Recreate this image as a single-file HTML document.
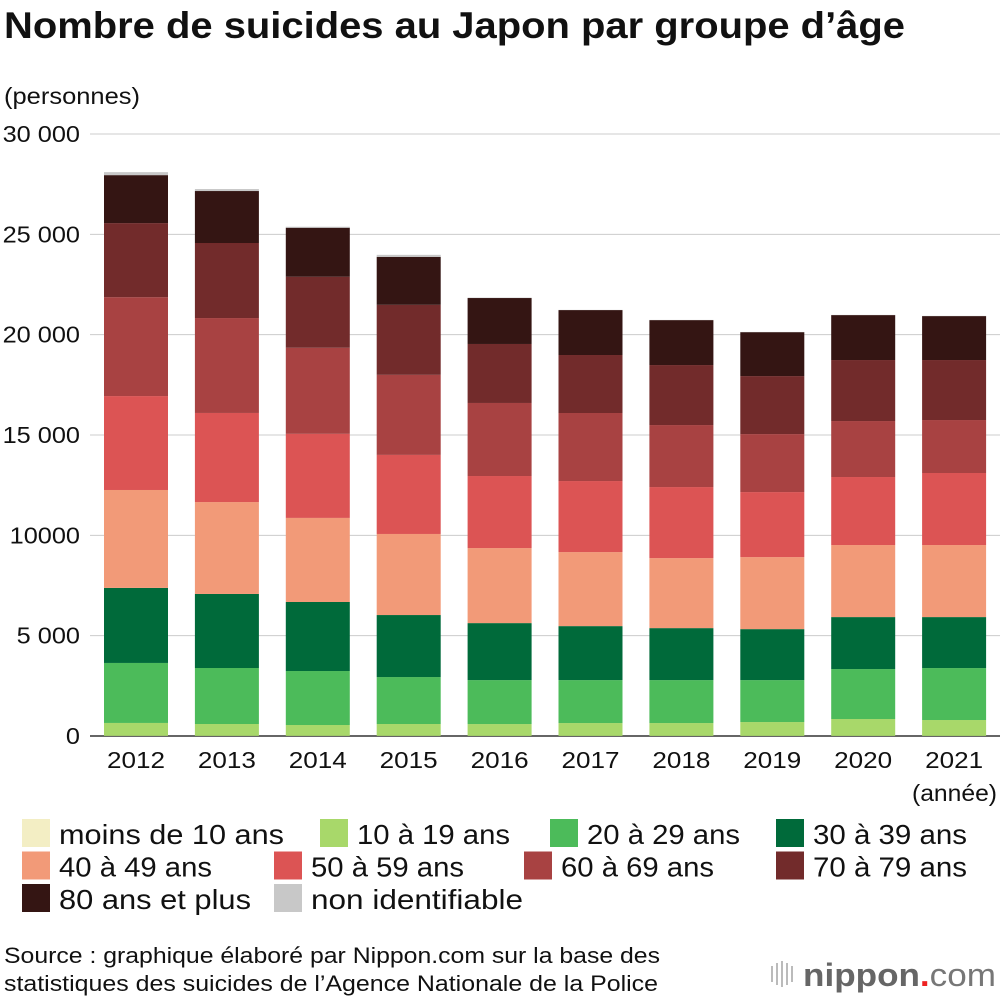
<!DOCTYPE html>
<html><head><meta charset="utf-8"><style>
body{margin:0;background:#fff;font-family:"Liberation Sans",sans-serif;}
</style></head><body>
<svg id="c" width="1000" height="1002" xmlns="http://www.w3.org/2000/svg" style="display:block">
<text x="4" y="38" font-size="37" font-weight="bold" fill="#111" data-w="901">Nombre de suicides au Japon par groupe d’âge</text>
<text x="4" y="104" font-size="23" fill="#111" data-w="136">(personnes)</text>
<g id="grid"></g><g id="bars"></g>
<text x="997" y="801" font-size="23" text-anchor="end" fill="#111" data-w="85">(année)</text>
<g id="legend"></g>
<text x="4" y="963" font-size="22" fill="#111" data-w="656">Source : graphique élaboré par Nippon.com sur la base des</text>
<text x="4" y="991" font-size="22" fill="#111" data-w="654">statistiques des suicides de l’Agence Nationale de la Police</text>
<g>
<rect x="771" y="966" width="2" height="16" fill="#bbb"/><rect x="776" y="963" width="2" height="22" fill="#bbb"/><rect x="781" y="961" width="2" height="26" fill="#bbb"/><rect x="786" y="963" width="2" height="22" fill="#bbb"/><rect x="791" y="966" width="2" height="16" fill="#bbb"/>
<text x="803" y="986" font-size="32" font-weight="bold" fill="#666" data-w="193">nippon<tspan fill="#e22">.</tspan><tspan font-weight="normal" fill="#777">com</tspan></text>
</g>
</svg>
<script>
const years=["2012","2013","2014","2015","2016","2017","2018","2019","2020","2021"];
const seriesNames=["moins de 10 ans","10 à 19 ans","20 à 29 ans","30 à 39 ans","40 à 49 ans","50 à 59 ans","60 à 69 ans","70 à 79 ans","80 ans et plus","non identifiable"];
const under10=[10,8,8,8,6,6,6,6,6,6];
const age10=[640,590,540,590,590,640,640,690,840,790];
const age20=[2990,2790,2690,2340,2190,2140,2140,2090,2490,2590];
const age30=[3740,3690,3440,3090,2840,2690,2590,2540,2590,2540];
const age40=[4880,4580,4190,4040,3740,3690,3490,3590,3590,3590];
const age50=[4680,4440,4190,3940,3590,3540,3540,3240,3390,3590];
const age60=[4930,4730,4290,3990,3640,3390,3090,2890,2790,2640];
const age70=[3690,3740,3540,3490,2940,2890,2990,2890,3040,2990];
const age80=[2390,2590,2440,2390,2290,2240,2240,2190,2240,2190];
const unknown=[150,100,50,100,20,10,10,10,10,10];
const yTicks=[0,5000,10000,15000,20000,25000,30000];
const yTickLabels=["0","5 000","10000","15 000","20 000","25 000","30 000"];
const series=[under10,age10,age20,age30,age40,age50,age60,age70,age80,unknown];
const colors=["#f3eec4","#a8d86a","#4cbb5a","#006a3a","#f29a78","#dc5454","#a84242","#722b2b","#341513","#c8c8c8"];
const NS="http://www.w3.org/2000/svg";
const y=v=>736-v*602/30000;
const x=i=>136+i*90.9;
function mk(t,a,p){const e=document.createElementNS(NS,t);for(const k in a)e.setAttribute(k,a[k]);p.appendChild(e);return e;}
const grid=document.getElementById('grid');
yTicks.forEach((t,i)=>{
 const l=mk('line',{x1:90,x2:1000,y1:y(t),y2:y(t),stroke:i==0?'#333':'#ccc','stroke-width':i==0?1.5:1},grid);
 
 
 const tx=mk('text',{x:80,y:y(t)+8,'font-size':23,'text-anchor':'end',fill:'#111','data-s':1.1},grid);
 tx.textContent=yTickLabels[i];
 
 
});
const bars=document.getElementById('bars');
years.forEach((yr,i)=>{
 let cum=0;
 series.forEach((s,j)=>{
  const r=mk('rect',{x:x(i)-32,width:64,y:y(cum+s[i]),height:y(cum)-y(cum+s[i]),fill:colors[j]},bars);
  
  
  cum+=s[i];
 });
 const t=mk('text',{x:x(i),y:768,'font-size':23,'text-anchor':'middle',fill:'#111','data-w':58},bars);
 t.textContent=yr;
 
 
});
const lg=document.getElementById('legend');
const lx=[22,320,550,776,22,274,524,776,22,274];
const lw=[225,153,153,154,153,153,153,154,192,212];
seriesNames.forEach((n,k)=>{
 const r=Math.floor(k/4),yy=819+r*32.5;
 const g=mk('g',{},lg);
 
 
 mk('rect',{x:lx[k],y:yy,width:28,height:28,fill:colors[k]},g);
 const t=mk('text',{x:lx[k]+37,y:yy+25,'font-size':28,fill:'#111','data-w':lw[k]},g);
 t.textContent=n;
});
document.querySelectorAll('text').forEach(t=>{
 let w=t.getAttribute('data-w');
 const s=t.getAttribute('data-s');
 if(!w&&s)w=t.getComputedTextLength()*parseFloat(s);
 if(w){t.setAttribute('textLength',w);t.setAttribute('lengthAdjust','spacingAndGlyphs');}
});
</script>
</body></html>
